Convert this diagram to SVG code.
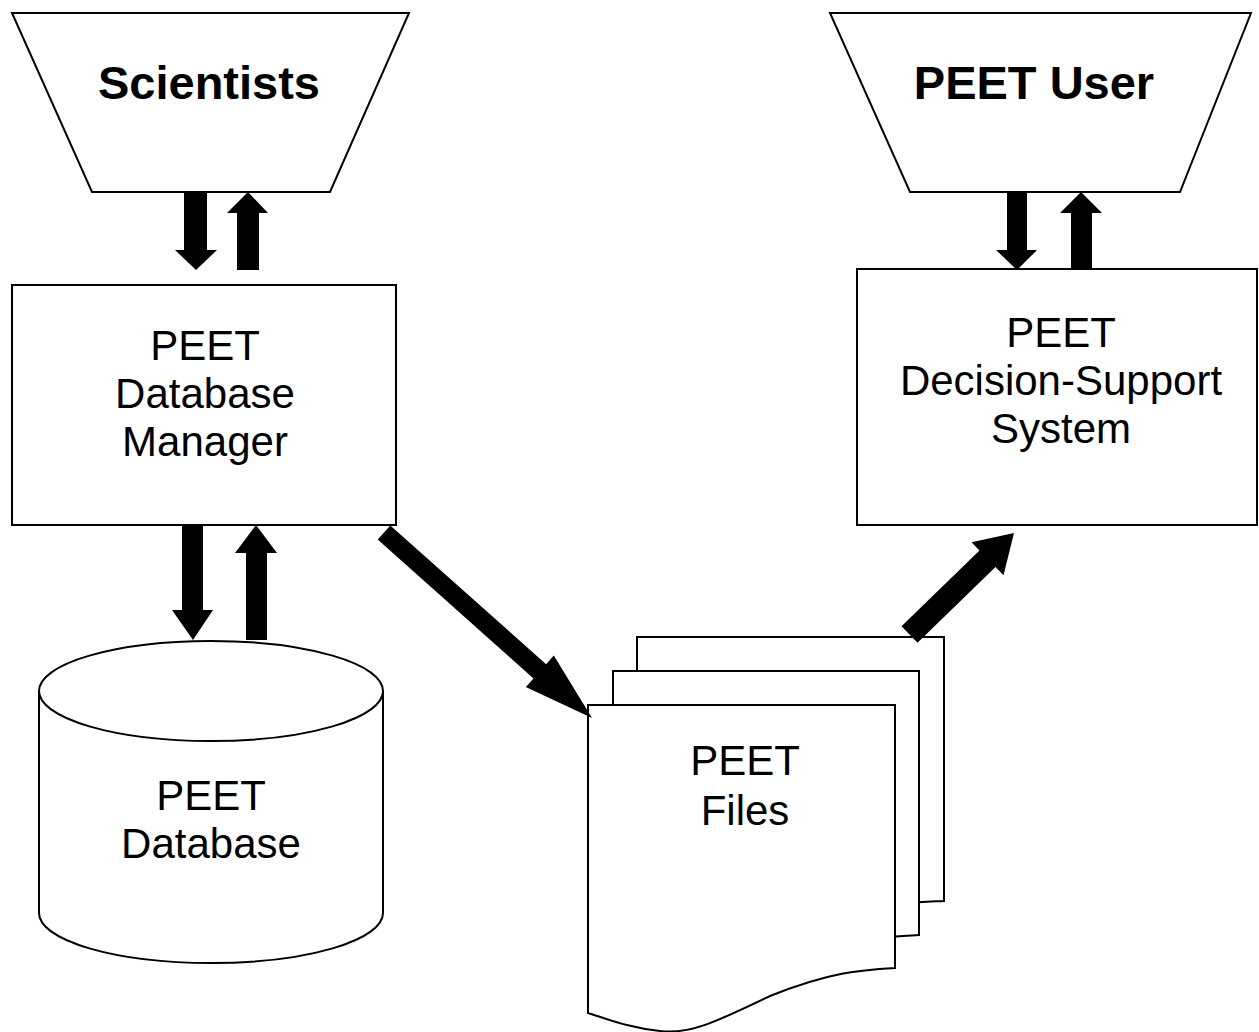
<svg xmlns="http://www.w3.org/2000/svg" width="1259" height="1032" viewBox="0 0 1259 1032">
<style>
.shape{fill:#fff;stroke:#000;stroke-width:2}
.arrow{fill:#000;stroke:none}
.t{font-family:"Liberation Sans",Arial,sans-serif;font-size:42px;fill:#000;text-anchor:middle}
.tb{font-family:"Liberation Sans",Arial,sans-serif;font-size:47px;font-weight:bold;fill:#000;text-anchor:middle}
</style>
<rect width="1259" height="1032" fill="#fff"/>
<g id="scientists">
<polygon class="shape" points="12,13 409,13 330,192 92,192"/>
<text class="tb" x="209" y="99">Scientists</text>
</g>
<g id="peet-user">
<polygon class="shape" points="830,13 1251,13 1180,192 910,192"/>
<text class="tb" x="1034" y="99">PEET User</text>
</g>
<g id="db-manager">
<rect class="shape" x="12" y="285" width="384" height="240"/>
<text class="t" x="205" y="360">PEET</text>
<text class="t" x="205" y="408">Database</text>
<text class="t" x="205" y="456">Manager</text>
</g>
<g id="dss">
<rect class="shape" x="857" y="269" width="400" height="256"/>
<text class="t" x="1061" y="347">PEET</text>
<text class="t" x="1061" y="395">Decision-Support</text>
<text class="t" x="1061" y="443">System</text>
</g>
<g id="database">
<path class="shape" d="M39,691 L39,913 A172,50 0 0 0 383,913 L383,691"/>
<ellipse class="shape" cx="211" cy="691" rx="172" ry="50"/>
<text class="t" x="211" y="810">PEET</text>
<text class="t" x="211" y="858">Database</text>
</g>
<g id="files">
<path class="shape" d="M637,637 L944,637 L944,901 C900,903 870,903 820,925 C760,950 720,950 637,945 Z"/>
<path class="shape" d="M613,671 L919,671 L919,935 C880,937 850,937 795,960 C740,984 700,984 613,979 Z"/>
<path class="shape" d="M588,705 L895,705 L895,968 C860,970 830,972 770,996 C720,1020 690,1035 660,1031 C630,1028 610,1020 588,1013 Z"/>
<text class="t" x="745" y="775">PEET</text>
<text class="t" x="745" y="825">Files</text>
</g>
<g id="connectors">
<polygon class="arrow" points="184,192 207,192 207,250 217,250 196,270 175,250 184,250"/>
<polygon class="arrow" points="237,270 259,270 259,213 268,213 248,192 227,213 237,213"/>
<polygon class="arrow" points="1007,192 1027,192 1027,250 1037,250 1017,270 996,250 1007,250"/>
<polygon class="arrow" points="1071,270 1092,270 1092,213 1102,213 1081,192 1060,213 1071,213"/>
<polygon class="arrow" points="182,525 203,525 203,610 213,610 193,640 172,610 182,610"/>
<polygon class="arrow" points="246,640 267,640 267,553 277,553 256,525 235,553 246,553"/>
<polygon class="arrow" points="377.7,539.6 390.3,525.4 546.1,664.2 553.8,655.6 592,718 525.8,686.9 533.5,678.4"/>
<polygon class="arrow" points="917.5,642.7 901.5,626.3 979.5,550.6 971.5,542.3 1014,533 1003.5,575.3 995.5,567"/>
</g>
</svg>
